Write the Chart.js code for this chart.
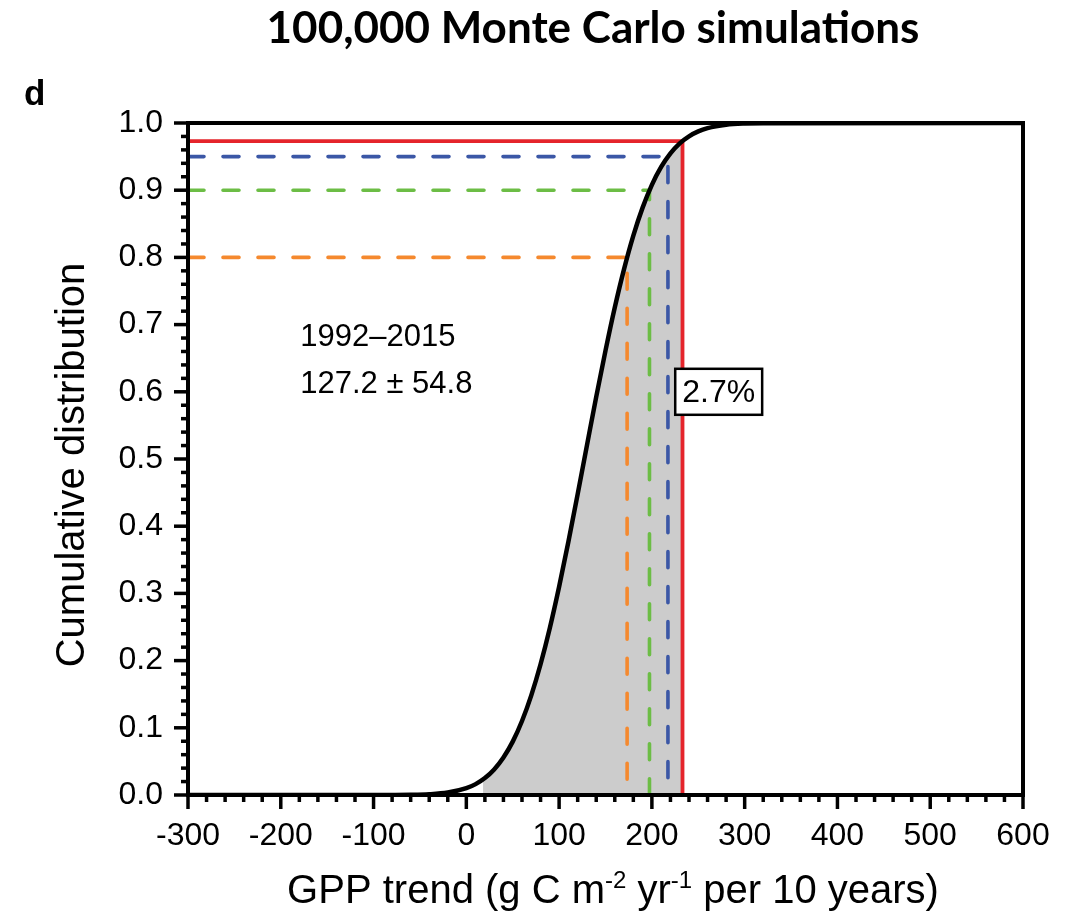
<!DOCTYPE html>
<html>
<head>
<meta charset="utf-8">
<script src="https://cdn.jsdelivr.net/npm/chart.js@4.4.1/dist/chart.umd.min.js"></script>
<style>
  html, body { margin: 0; padding: 0; background: #ffffff; }
  #wrap { width: 1074px; height: 922px; position: relative; }
</style>
</head>
<body>
<div id="wrap"><canvas id="cdf"></canvas></div>
<script>
// Cumulative distribution of the simulated GPP trend
const trendValues = [-300, -100, -60, -40, -20, 0, 10, 20, 30, 40, 50, 60, 70, 80, 90, 100,
  110, 120, 130, 140, 150, 160, 170, 180, 190, 200, 210, 220, 230, 240, 250, 260, 280, 300, 320, 600];
const cdfValues = [0, 0, 0.0003, 0.0011, 0.0036, 0.0101, 0.0162, 0.0252, 0.0380, 0.0558, 0.0794,
  0.1101, 0.1483, 0.1946, 0.2486, 0.3099, 0.3768, 0.4478, 0.5203, 0.5925, 0.6613, 0.7254,
  0.7826, 0.8324, 0.8741, 0.9080, 0.9346, 0.9548, 0.9697, 0.9802, 0.9875, 0.9923, 0.9973,
  0.9992, 0.9998, 1];

// Shaded band under the curve
const shadeTrends = [18, 20, 30, 40, 50, 60, 70, 80, 90, 100, 110, 120, 130, 140, 150, 160,
  170, 180, 190, 200, 210, 220, 230, 233];
const shadeCdf = [0.0232, 0.0252, 0.0380, 0.0558, 0.0794, 0.1101, 0.1483, 0.1946, 0.2486,
  0.3099, 0.3768, 0.4478, 0.5203, 0.5925, 0.6613, 0.7254, 0.7826, 0.8324, 0.8741, 0.9080,
  0.9346, 0.9548, 0.9697, 0.973];

// Quantile guides: probability level and matching trend
const quantileLevels = [0.80, 0.90, 0.95, 0.973];
const quantileTrends = [173.3, 197.4, 217.3, 233.0];

// Axis ticks
const xTickValues = [-300, -200, -100, 0, 100, 200, 300, 400, 500, 600];
const yTickValues = [0, 0.1, 0.2, 0.3, 0.4, 0.5, 0.6, 0.7, 0.8, 0.9, 1.0];

// Text
const chartTitle = '100,000 Monte Carlo simulations';
const panelLetter = 'd';
const periodText = '1992–2015';
const statText = '127.2 ± 54.8';
const exceedText = '2.7%';
const exceedAt = { x: 272, y: 0.60 };
const statAt = { x: -179, y: 0.668 };

const quantileStyles = [
  { color: '#f5892e', dash: [16, 19] },
  { color: '#6cbd45', dash: [16, 19] },
  { color: '#3b57a6', dash: [16, 19] },
  { color: '#e5242b', dash: [] }
];

const SANS = '"Liberation Sans", Arial, Helvetica, sans-serif';

function pointsOf(xs, ys) {
  return xs.map((x, i) => ({ x: x, y: ys[i] }));
}

const datasets = [];
datasets.push({
  label: 'CDF',
  data: pointsOf(trendValues, cdfValues),
  borderColor: '#000000',
  borderWidth: 4.5,
  pointRadius: 0,
  cubicInterpolationMode: 'monotone',
  fill: false,
  order: 0
});
quantileLevels.forEach((q, i) => {
  const t = quantileTrends[i];
  const solid = quantileStyles[i].dash.length === 0;
  datasets.push({
    label: 'q' + q,
    data: [{ x: -300, y: q }, { x: t, y: q }, { x: t, y: 0 }],
    borderColor: quantileStyles[i].color,
    borderWidth: solid ? 3.8 : 3.6,
    borderDash: quantileStyles[i].dash,
    borderCapStyle: solid ? 'butt' : 'round',
    borderJoinStyle: 'miter',
    pointRadius: 0,
    tension: 0,
    fill: false,
    order: 4 - i
  });
});
datasets.push({
  label: 'shade',
  data: pointsOf(shadeTrends, shadeCdf),
  borderWidth: 0,
  borderColor: 'rgba(0,0,0,0)',
  backgroundColor: '#cccccc',
  pointRadius: 0,
  cubicInterpolationMode: 'monotone',
  fill: 'origin',
  order: 10
});

const decorations = {
  id: 'decorations',
  afterDatasetsDraw(chart) {
    const ctx = chart.ctx;
    const a = chart.chartArea;
    const xs = chart.scales.x;
    const ys = chart.scales.y;
    ctx.save();

    // frame
    ctx.strokeStyle = '#000';
    ctx.lineWidth = 4;
    ctx.strokeRect(a.left, a.top, a.right - a.left, a.bottom - a.top);

    // ticks on x (major every 100, minor every 20)
    ctx.lineCap = 'butt';
    for (let v = xs.min; v <= xs.max + 1e-9; v += 20) {
      const px = xs.getPixelForValue(v);
      const major = Math.abs(v % 100) < 1e-6;
      ctx.lineWidth = 3.5;
      ctx.beginPath();
      ctx.moveTo(px, a.bottom);
      ctx.lineTo(px, a.bottom + (major ? 14 : 7));
      ctx.stroke();
    }
    // ticks on y (major every 0.1, minor every 0.02)
    for (let k = 0; k <= 50; k++) {
      const v = k / 50;
      const py = ys.getPixelForValue(v);
      const major = k % 5 === 0;
      ctx.lineWidth = 3.5;
      ctx.beginPath();
      ctx.moveTo(a.left, py);
      ctx.lineTo(a.left - (major ? 14 : 7), py);
      ctx.stroke();
    }

    // exceedance box
    ctx.font = '32px ' + SANS;
    const bx = xs.getPixelForValue(exceedAt.x);
    const by = ys.getPixelForValue(exceedAt.y);
    const tw = ctx.measureText(exceedText).width;
    const bw = tw + 14, bh = 46;
    ctx.fillStyle = '#fff';
    ctx.fillRect(bx - bw / 2, by - bh / 2, bw, bh);
    ctx.lineWidth = 2.5;
    ctx.strokeStyle = '#000';
    ctx.strokeRect(bx - bw / 2, by - bh / 2, bw, bh);
    ctx.fillStyle = '#000';
    ctx.textAlign = 'center';
    ctx.textBaseline = 'middle';
    ctx.fillText(exceedText, bx, by + 1);

    // period and statistics
    ctx.font = '31px ' + SANS;
    ctx.textAlign = 'left';
    ctx.textBaseline = 'alphabetic';
    const sx = xs.getPixelForValue(statAt.x);
    const sy = ys.getPixelForValue(statAt.y);
    ctx.fillText(periodText, sx, sy);
    ctx.fillText(statText, sx, sy + 47);

    // title
    ctx.font = 'bold 44px Lato, "Open Sans", sans-serif';
    ctx.textAlign = 'center';
    ctx.textBaseline = 'alphabetic';
    ctx.fillText(chartTitle, 593, 43);

    // panel letter
    ctx.font = 'bold 35px ' + SANS;
    ctx.textAlign = 'left';
    ctx.fillText(panelLetter, 24, 105);

    // y axis title
    ctx.save();
    ctx.translate(84, 465);
    ctx.rotate(-Math.PI / 2);
    ctx.font = '40px ' + SANS;
    ctx.textAlign = 'center';
    ctx.textBaseline = 'alphabetic';
    ctx.fillText('Cumulative distribution', 0, 0);
    ctx.restore();

    // x axis title with superscripts
    const base = '40px ' + SANS;
    const sup = '24px ' + SANS;
    const parts = [
      ['GPP trend (g C m', base, 0],
      ['-2', sup, -15],
      [' yr', base, 0],
      ['-1', sup, -15],
      [' per 10 years)', base, 0]
    ];
    let total = 0;
    parts.forEach(p => { ctx.font = p[1]; total += ctx.measureText(p[0]).width; });
    let cx = 613 - total / 2;
    const baseY = 903;
    ctx.textAlign = 'left';
    parts.forEach(p => {
      ctx.font = p[1];
      ctx.fillText(p[0], cx, baseY + p[2]);
      cx += ctx.measureText(p[0]).width;
    });

    ctx.restore();
  }
};

new Chart(document.getElementById('cdf'), {
  type: 'line',
  data: { datasets: datasets },
  options: {
    responsive: true,
    maintainAspectRatio: false,
    animation: false,
    layout: { padding: { top: 123, right: 51, left: 0, bottom: 0 } },
    plugins: {
      legend: { display: false },
      title: { display: false },
      tooltip: { enabled: false }
    },
    scales: {
      x: {
        type: 'linear',
        min: -300,
        max: 600,
        afterBuildTicks: s => { s.ticks = xTickValues.map(v => ({ value: v })); },
        afterFit: s => { s.height = 127; },
        ticks: {
          color: '#000',
          font: { family: SANS, size: 32 },
          padding: 22,
          maxRotation: 0,
          autoSkip: false,
          callback: v => String(v)
        },
        grid: { display: false, drawTicks: false },
        border: { display: false }
      },
      y: {
        type: 'linear',
        min: 0,
        max: 1,
        afterBuildTicks: s => { s.ticks = yTickValues.map(v => ({ value: v })); },
        afterFit: s => { s.width = 188; },
        ticks: {
          color: '#000',
          font: { family: SANS, size: 32 },
          padding: 25,
          autoSkip: false,
          callback: v => Number(v).toFixed(1)
        },
        grid: { display: false, drawTicks: false },
        border: { display: false }
      }
    }
  },
  plugins: [decorations]
});
</script>
</body>
</html>
